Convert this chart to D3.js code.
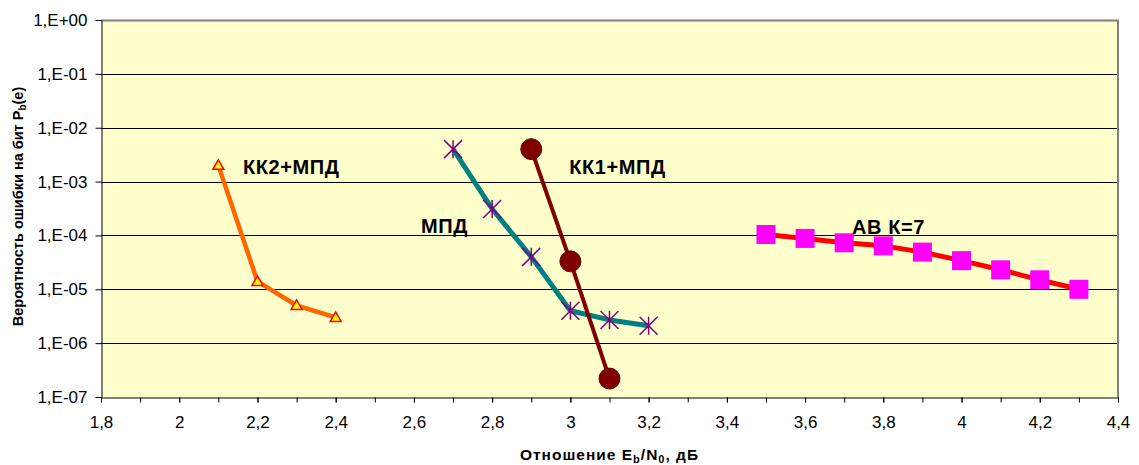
<!DOCTYPE html>
<html>
<head>
<meta charset="utf-8">
<script src="https://cdn.jsdelivr.net/npm/d3@7"></script>
<style>
  html, body { margin: 0; padding: 0; background: #fff; }
  svg { display: block; font-family: "Liberation Sans", Arial, sans-serif; }
</style>
</head>
<body>
<svg id="chart" width="1139" height="465"></svg>
<script>
// Eb/N0 values (dB) and bit error probabilities for each coding scheme
const xKK2 = [2.1, 2.2, 2.3, 2.4];
const yKK2 = [2.0e-3, 1.4e-5, 5.0e-6, 3.0e-6];

const xMPD = [2.7, 2.8, 2.9, 3.0, 3.1, 3.2];
const yMPD = [4.0e-3, 3.1e-4, 4.0e-5, 4.0e-6, 2.7e-6, 2.1e-6];

const xKK1 = [2.9, 3.0, 3.1];
const yKK1 = [4.0e-3, 3.3e-5, 2.2e-7];

const xAB = [3.5, 3.6, 3.7, 3.8, 3.9, 4.0, 4.1, 4.2, 4.3];
const yAB = [1.04e-4, 8.8e-5, 7.3e-5, 6.4e-5, 4.9e-5, 3.4e-5, 2.3e-5, 1.5e-5, 1.0e-5];

// Axis ticks
const xTickLabels = ["1,8", "2", "2,2", "2,4", "2,6", "2,8", "3", "3,2", "3,4", "3,6", "3,8", "4", "4,2", "4,4"];
const xTickValues = [1.8, 2.0, 2.2, 2.4, 2.6, 2.8, 3.0, 3.2, 3.4, 3.6, 3.8, 4.0, 4.2, 4.4];
const xMinorValues = d3.range(18, 45).map(v => v / 10);
const yTickValues = [1, 1e-1, 1e-2, 1e-3, 1e-4, 1e-5, 1e-6, 1e-7];
const yTickLabels = ["1,E+00", "1,E-01", "1,E-02", "1,E-03", "1,E-04", "1,E-05", "1,E-06", "1,E-07"];

// Series labels placed in data coordinates
const labelText = ["КК2+МПД", "МПД", "КК1+МПД", "АВ К=7"];
const labelX = [2.163, 2.618, 2.997, 3.72];
const labelY = [1.38e-3, 1.11e-4, 1.38e-3, 1.06e-4];

const svg = d3.select("#chart");
const plot = { left: 101, top: 20, right: 1118, bottom: 397 };

const x = d3.scaleLinear().domain([1.8, 4.4]).range([plot.left, plot.right]);
const y = d3.scaleLog().domain([1e-7, 1]).range([plot.bottom, plot.top]);

// Plot background
svg.append("rect")
  .attr("x", plot.left).attr("y", plot.top)
  .attr("width", plot.right - plot.left).attr("height", plot.bottom - plot.top)
  .attr("fill", "#FFFFCC");

// Horizontal gridlines at each decade
svg.append("g").selectAll("line")
  .data(yTickValues.slice(1, -1))
  .join("line")
  .attr("x1", plot.left).attr("x2", plot.right)
  .attr("y1", d => Math.round(y(d)) + 0.5).attr("y2", d => Math.round(y(d)) + 0.5)
  .attr("stroke", "#000").attr("stroke-width", 1);

// Plot frame (top and right)
svg.append("path")
  .attr("d", `M${plot.left},${plot.top + 0.5}H${plot.right}V${plot.bottom}`)
  .attr("fill", "none").attr("stroke", "#808080").attr("stroke-width", 2);

// Y axis
const yAxis = d3.axisLeft(y)
  .tickValues(yTickValues)
  .tickFormat((d, i) => yTickLabels[i])
  .tickSize(6).tickPadding(8).tickSizeOuter(0);
const gy = svg.append("g").attr("transform", `translate(${plot.left + 0.5},0)`).call(yAxis);
gy.select(".domain").attr("stroke", "#000");
gy.selectAll(".tick line").attr("stroke", "#000");
gy.selectAll(".tick text").attr("font-size", 17).attr("fill", "#000")
  .attr("font-family", "'Liberation Sans', Arial, sans-serif");

// X axis with minor ticks every 0.1
const xMinor = d3.axisBottom(x).tickValues(xMinorValues).tickFormat("").tickSize(5).tickSizeOuter(0);
const gxm = svg.append("g").attr("transform", `translate(0,${plot.bottom + 0.5})`).call(xMinor);
gxm.select(".domain").attr("stroke", "#000");
gxm.selectAll(".tick line").attr("stroke", "#000");

const xAxis = d3.axisBottom(x)
  .tickValues(xTickValues)
  .tickFormat((d, i) => xTickLabels[i])
  .tickSize(5).tickPadding(13).tickSizeOuter(0);
const gx = svg.append("g").attr("transform", `translate(0,${plot.bottom + 0.5})`).call(xAxis);
gx.select(".domain").remove();
gx.selectAll(".tick line").attr("stroke", "#000");
gx.selectAll(".tick text").attr("font-size", 17).attr("fill", "#000")
  .attr("font-family", "'Liberation Sans', Arial, sans-serif");

// Axis titles
const yTitle = svg.append("text")
  .attr("transform", `translate(23,${(plot.top + plot.bottom) / 2 - 2}) rotate(-90)`)
  .attr("text-anchor", "middle")
  .attr("font-size", 14.5).attr("font-weight", "bold").attr("fill", "#000");
yTitle.append("tspan").text("Вероятность ошибки на бит P");
yTitle.append("tspan").attr("font-size", 10).attr("dy", 3).text("b");
yTitle.append("tspan").attr("dy", -3).text("(e)");

const xTitle = svg.append("text")
  .attr("x", (plot.left + plot.right) / 2).attr("y", 460)
  .attr("text-anchor", "middle")
  .attr("font-size", 15.5).attr("font-weight", "bold").attr("fill", "#000")
  .attr("letter-spacing", 1);
xTitle.append("tspan").text("Отношение E");
xTitle.append("tspan").attr("font-size", 11).attr("dy", 3).text("b");
xTitle.append("tspan").attr("dy", -3).text("/N");
xTitle.append("tspan").attr("font-size", 11).attr("dy", 3).text("0");
xTitle.append("tspan").attr("dy", -3).text(", дБ");

const line = d3.line().x(d => x(d[0])).y(d => y(d[1]));
const zipped = (xs, ys) => xs.map((v, i) => [v, ys[i]]);

const dKK2 = zipped(xKK2, yKK2);
const dMPD = zipped(xMPD, yMPD);
const dKK1 = zipped(xKK1, yKK1);
const dAB = zipped(xAB, yAB);

// КК2+МПД: orange line, yellow triangles
svg.append("path").datum(dKK2).attr("d", line)
  .attr("fill", "none").attr("stroke", "#FF6600").attr("stroke-width", 4.5).attr("stroke-linejoin", "round");
svg.append("g").selectAll("path").data(dKK2).join("path")
  .attr("transform", d => `translate(${x(d[0])},${y(d[1])})`)
  .attr("d", "M0,-5.5L5.5,4L-5.5,4Z")
  .attr("fill", "#FFFF00").attr("stroke", "#FF0000").attr("stroke-width", 1.5);

// МПД: teal line, purple asterisks
svg.append("path").datum(dMPD).attr("d", line)
  .attr("fill", "none").attr("stroke", "#008080").attr("stroke-width", 5).attr("stroke-linejoin", "round");
svg.append("g").selectAll("path").data(dMPD).join("path")
  .attr("transform", d => `translate(${x(d[0])},${y(d[1])})`)
  .attr("d", "M-9,-9L9,9M-9,9L9,-9M0,-9V9")
  .attr("fill", "none").attr("stroke", "#800080").attr("stroke-width", 1.5);

// КК1+МПД: dark red line, dark red circles
svg.append("path").datum(dKK1).attr("d", line)
  .attr("fill", "none").attr("stroke", "#800000").attr("stroke-width", 4).attr("stroke-linejoin", "round");
svg.append("g").selectAll("circle").data(dKK1).join("circle")
  .attr("cx", d => x(d[0])).attr("cy", d => y(d[1])).attr("r", 10.5)
  .attr("fill", "#800000").attr("stroke", "#6a0000").attr("stroke-width", 1);

// АВ К=7: red line, magenta squares
svg.append("path").datum(dAB).attr("d", line)
  .attr("fill", "none").attr("stroke", "#FF0000").attr("stroke-width", 5).attr("stroke-linejoin", "round");
svg.append("g").selectAll("rect").data(dAB).join("rect")
  .attr("x", d => x(d[0]) - 9.5).attr("y", d => y(d[1]) - 9.5)
  .attr("width", 19).attr("height", 19)
  .attr("fill", "#FF00FF");

// Series labels
svg.append("g").selectAll("text").data(labelText).join("text")
  .attr("x", (d, i) => x(labelX[i])).attr("y", (d, i) => y(labelY[i]))
  .attr("font-size", 20).attr("font-weight", "bold").attr("fill", "#000")
  .attr("letter-spacing", 0.6)
  .text(d => d);
</script>
</body>
</html>
